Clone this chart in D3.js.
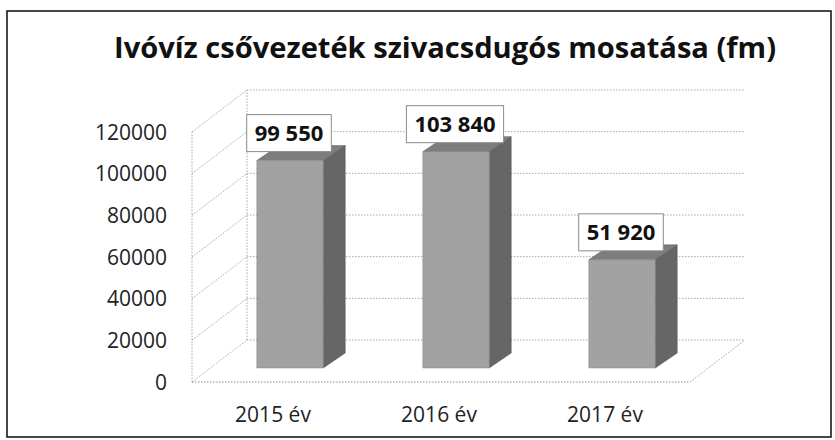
<!DOCTYPE html>
<html>
<head>
<meta charset="utf-8">
<script src="https://cdn.jsdelivr.net/npm/d3@7"></script>
<style>
  body { margin: 0; background: #fff; }
  text { font-family: "Open Sans", sans-serif; }
</style>
</head>
<body>
<div id="chart"></div>
<script>
const years = ["2015 év", "2016 év", "2017 év"];
const values = [99550, 103840, 51920];
const yTicks = [0, 20000, 40000, 60000, 80000, 100000, 120000];
const title = "Ivóvíz csővezeték szivacsdugós mosatása (fm)";

const W = 835, H = 440;
// front plane of the 3D box and the depth shift to the back wall
const FRONT = { LEFT: 192, RIGHT: 690, BOTTOM: 382, TOP: 132 };
const DEPTH = { X: 55, Y: -42 };
// bar front / back faces sit inside the depth
const BAR_FRONT = { X: 15, Y: -14 }, BAR_BACK = { X: 37, Y: -29 };

const svg = d3.select("#chart").append("svg")
  .attr("width", W).attr("height", H);

svg.append("rect")
  .attr("x", 7).attr("y", 11).attr("width", 824).attr("height", 426)
  .attr("fill", "#fff").attr("stroke", "#1a1a1a").attr("stroke-width", 1.6);

svg.append("text")
  .attr("x", 445).attr("y", 58)
  .attr("text-anchor", "middle")
  .attr("font-size", 29).attr("font-weight", 700).attr("fill", "#111")
  .attr("textLength", 662).attr("lengthAdjust", "spacingAndGlyphs")
  .text(title);

const x = d3.scaleBand().domain(years)
  .range([FRONT.LEFT, FRONT.RIGHT])
  .paddingInner(0.6).paddingOuter(0.3);
const y = d3.scaleLinear().domain([0, 120000])
  .range([FRONT.BOTTOM, FRONT.TOP]);

const grid = svg.append("g")
  .attr("fill", "none").attr("stroke", "#a8a8a8")
  .attr("stroke-width", 1).attr("stroke-dasharray", "1.5,1.5");

// back wall gridlines + left wall diagonals
yTicks.forEach(v => {
  grid.append("line")
    .attr("x1", FRONT.LEFT + DEPTH.X).attr("x2", FRONT.RIGHT + DEPTH.X)
    .attr("y1", y(v) + DEPTH.Y).attr("y2", y(v) + DEPTH.Y);
  grid.append("line")
    .attr("x1", FRONT.LEFT).attr("y1", y(v))
    .attr("x2", FRONT.LEFT + DEPTH.X).attr("y2", y(v) + DEPTH.Y);
});
// wall edges
grid.append("line")
  .attr("x1", FRONT.LEFT).attr("x2", FRONT.LEFT)
  .attr("y1", y(0)).attr("y2", y(120000));
grid.append("line")
  .attr("x1", FRONT.LEFT + DEPTH.X).attr("x2", FRONT.LEFT + DEPTH.X)
  .attr("y1", y(0) + DEPTH.Y).attr("y2", y(120000) + DEPTH.Y);
// floor
grid.append("line")
  .attr("x1", FRONT.RIGHT).attr("y1", y(0))
  .attr("x2", FRONT.RIGHT + DEPTH.X).attr("y2", y(0) + DEPTH.Y);
grid.append("line")
  .attr("stroke", "#8a8a8a")
  .attr("x1", FRONT.LEFT).attr("x2", FRONT.RIGHT)
  .attr("y1", y(0)).attr("y2", y(0));

// y axis labels
svg.append("g").selectAll("text").data(yTicks).join("text")
  .attr("x", 167).attr("y", d => y(d))
  .attr("dy", "0.36em")
  .attr("text-anchor", "end")
  .attr("font-size", 21).attr("fill", "#222")
  .text(d => d3.format("d")(d));

// x axis labels
svg.append("g").selectAll("text").data(years).join("text")
  .attr("x", d => x(d) + x.bandwidth() / 2 - 2).attr("y", 422)
  .attr("text-anchor", "middle")
  .attr("font-size", 21).attr("fill", "#222")
  .text(d => d);

// 3D bars
const bars = svg.append("g");
years.forEach((yr, i) => {
  const x0 = x(yr), x1 = x(yr) + x.bandwidth();
  const yb = y(0), yt = y(values[i]);
  const F = BAR_FRONT, B = BAR_BACK;
  const pt = (px, py, o) => [px + o.X, py + o.Y];
  const g = bars.append("g");
  // side face
  g.append("polygon")
    .attr("points", [pt(x1, yb, F), pt(x1, yb, B), pt(x1, yt, B), pt(x1, yt, F)].join(" "))
    .attr("fill", "#666").attr("stroke", "#4a4a4a").attr("stroke-width", 0.5);
  // top face
  g.append("polygon")
    .attr("points", [pt(x0, yt, F), pt(x1, yt, F), pt(x1, yt, B), pt(x0, yt, B)].join(" "))
    .attr("fill", "#7d7d7d").attr("stroke", "#5a5a5a").attr("stroke-width", 0.5);
  // front face
  g.append("polygon")
    .attr("points", [pt(x0, yb, F), pt(x1, yb, F), pt(x1, yt, F), pt(x0, yt, F)].join(" "))
    .attr("fill", "#a2a2a2").attr("stroke", "#8a8a8a").attr("stroke-width", 0.5);
});

// value labels
const fmt = d3.formatLocale({ decimal: ",", thousands: " ", grouping: [3], currency: ["", ""] }).format(",");
years.forEach((yr, i) => {
  const cx = x(yr) + x.bandwidth() / 2 + BAR_FRONT.X - 1;
  const bottom = y(values[i]) + BAR_BACK.Y + 6;
  const g = svg.append("g");
  const t = g.append("text")
    .attr("x", cx).attr("y", bottom - 18.5)
    .attr("dy", "0.36em")
    .attr("text-anchor", "middle")
    .attr("font-size", 22).attr("font-weight", 700).attr("fill", "#111")
    .text(fmt(values[i]));
  const w = t.node().getComputedTextLength() + 16;
  g.insert("rect", "text")
    .attr("x", cx - w / 2).attr("y", bottom - 37)
    .attr("width", w).attr("height", 37)
    .attr("fill", "#fff").attr("stroke", "#8c8c8c").attr("stroke-width", 1);
});
</script>
</body>
</html>
